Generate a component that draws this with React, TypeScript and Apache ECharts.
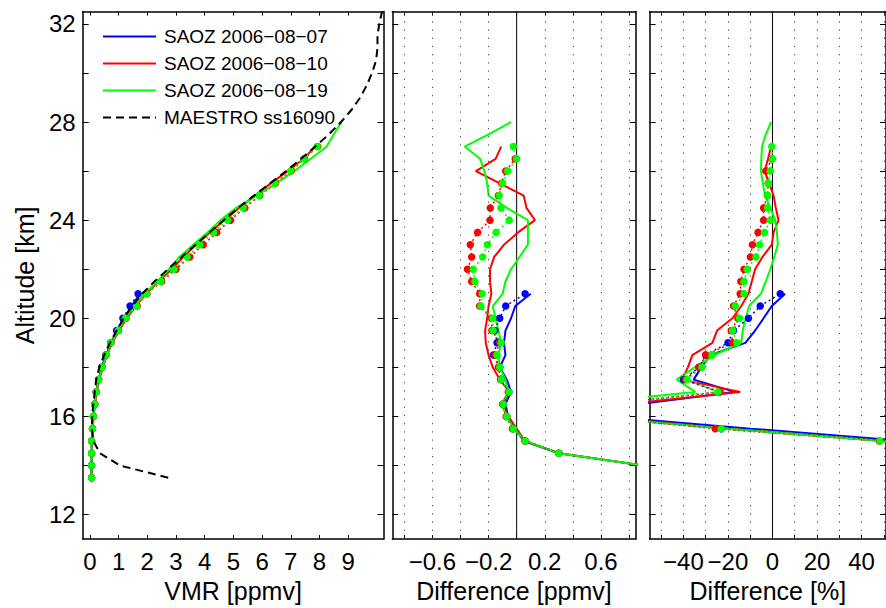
import React, { useEffect, useRef } from "react";
import * as echarts from "echarts";

// ---------- Panel 1: VMR [ppmv] ----------
const ALT_P1_DOTS = [13.5, 14, 14.5, 15, 15.5, 16, 16.5, 17, 17.5, 18, 18.5, 19, 19.5, 20, 20.5, 21, 21.5, 22, 22.5, 23, 23.5, 24, 24.5, 25, 25.5, 26, 26.5, 27];
const P1_GREEN_DOTS = [0.06, 0.06, 0.06, 0.06, 0.09, 0.12, 0.17, 0.22, 0.31, 0.43, 0.57, 0.73, 0.99, 1.24, 1.63, 1.97, 2.47, 2.93, 3.39, 3.83, 4.31, 4.8, 5.34, 5.9, 6.45, 7.0, 7.45, 7.92];
const P1_RED_DOTS = [0.06, 0.06, 0.06, 0.06, 0.09, 0.12, 0.17, 0.22, 0.31, 0.43, 0.57, 0.74, 1.0, 1.26, 1.65, 1.99, 2.5, 3.0, 3.48, 3.95, 4.42, 4.9, 5.4, 5.92, 6.47, 7.02, 7.47, 7.94];
const P1_RED_LINE = [0.06, 0.06, 0.07, 0.08, 0.1, 0.13, 0.18, 0.24, 0.33, 0.45, 0.6, 0.78, 1.02, 1.28, 1.6, 1.95, 2.4, 2.85, 3.25, 3.7, 4.18, 4.68, 5.2, 5.75, 6.3, 6.9, 7.45, 7.85];
const ALT_P1_BLUE = [13.5, 14, 14.5, 15, 15.5, 16, 16.5, 17, 17.5, 18, 18.5, 19, 19.5, 20, 20.5, 21];
const P1_BLUE_DOTS = [0.06, 0.06, 0.06, 0.06, 0.09, 0.12, 0.17, 0.22, 0.3, 0.41, 0.55, 0.72, 0.93, 1.15, 1.4, 1.68];
const P1_BLUE_LINE = [0.06, 0.06, 0.06, 0.07, 0.09, 0.12, 0.17, 0.22, 0.3, 0.42, 0.56, 0.74, 0.96, 1.2, 1.45, 1.75];
const ALT_P1_GREEN_LINE = [13.5, 14, 14.5, 15, 15.5, 16, 16.5, 17, 17.5, 18, 18.5, 19, 19.5, 20, 20.5, 21, 21.5, 22, 22.5, 23, 23.5, 24, 24.5, 25, 25.5, 26, 26.5, 27, 27.5, 28];
const P1_GREEN_LINE = [0.06, 0.06, 0.06, 0.07, 0.09, 0.12, 0.17, 0.22, 0.31, 0.43, 0.58, 0.76, 1.0, 1.22, 1.55, 1.9, 2.35, 2.75, 3.12, 3.6, 4.1, 4.55, 5.1, 5.8, 6.5, 7.12, 7.7, 8.25, 8.5, 8.77];
const ALT_MAESTRO = [13.5, 14, 14.5, 15, 15.5, 16, 16.5, 17, 17.5, 18, 18.5, 19, 19.5, 20, 20.5, 21, 21.5, 22, 22.5, 23, 23.5, 24, 24.5, 25, 25.5, 26, 26.5, 27, 27.5, 28, 28.5, 29, 29.5, 30, 30.5, 31, 31.5, 32, 32.5];
const MAESTRO = [2.73, 1.05, 0.35, 0.12, 0.07, 0.08, 0.12, 0.17, 0.22, 0.33, 0.5, 0.7, 0.93, 1.18, 1.48, 1.82, 2.25, 2.72, 3.2, 3.68, 4.17, 4.66, 5.17, 5.72, 6.28, 6.84, 7.36, 7.85, 8.33, 8.75, 9.12, 9.42, 9.65, 9.83, 9.97, 10.02, 10.02, 10.08, 10.18];

// ---------- Panel 2: Difference [ppmv] ----------
const ALT_P2_GREEN_LINE = [14, 14.5, 15, 15.5, 16, 16.5, 17, 17.5, 18, 18.5, 19, 19.5, 20, 20.5, 21, 21.5, 22, 22.5, 23, 23.5, 24, 24.5, 25, 25.5, 26, 26.5, 27, 27.5, 28];
const P2_GREEN_LINE = [0.9, 0.3, 0.06, -0.02, -0.07, -0.11, -0.06, -0.08, -0.12, -0.13, -0.11, -0.13, -0.15, -0.17, -0.1, -0.08, -0.04, 0.02, 0.08, 0.08, 0.08, -0.07, -0.2, -0.21, -0.23, -0.26, -0.37, -0.2, -0.04];
const ALT_P2_RED_LINE = [14, 14.5, 15, 15.5, 16, 16.5, 17, 17.5, 18, 18.5, 19, 19.5, 20, 20.5, 21, 21.5, 22, 22.5, 23, 23.5, 24, 24.5, 25, 25.5, 26, 26.5, 27];
const P2_RED_LINE = [0.9, 0.3, 0.06, 0.0, -0.06, -0.095, -0.05, -0.12, -0.17, -0.2, -0.22, -0.225, -0.21, -0.2, -0.18, -0.19, -0.19, -0.16, -0.09, 0.01, 0.13, 0.07, 0.05, -0.12, -0.29, -0.15, -0.11];
const ALT_P2_BLUE_LINE = [14, 14.5, 15, 15.5, 16, 16.5, 17, 17.5, 18, 18.5, 19, 19.5, 20, 20.5, 21];
const P2_BLUE_LINE = [0.9, 0.3, 0.05, -0.01, -0.06, -0.08, -0.04, -0.07, -0.12, -0.08, -0.09, -0.08, -0.04, -0.01, 0.1];
const ALT_GREEN_DOTS = [14.5, 15, 15.5, 16, 16.5, 17, 17.5, 18, 18.5, 19, 19.5, 20, 20.5, 21, 21.5, 22, 22.5, 23, 23.5, 24, 24.5, 25, 25.5, 26, 26.5, 27];
const P2_GREEN_DOTS = [0.3, 0.06, -0.024, -0.07, -0.095, -0.055, -0.11, -0.12, -0.14, -0.11, -0.167, -0.171, -0.254, -0.245, -0.297, -0.309, -0.242, -0.209, -0.147, -0.053, -0.112, -0.124, -0.1, -0.064, 0.0, -0.024];
const ALT_RED_DOTS = [14.5, 15, 15.5, 16, 16.5, 17, 17.5, 18, 18.5, 19, 19.5, 20, 20.5, 21, 21.5, 22, 22.5, 23, 23.5, 24, 24.5, 25, 25.5, 26, 26.5];
const P2_RED_DOTS = [0.3, 0.06, -0.03, -0.075, -0.1, -0.06, -0.115, -0.13, -0.155, -0.12, -0.176, -0.18, -0.263, -0.263, -0.32, -0.35, -0.32, -0.33, -0.278, -0.19, -0.188, -0.13, -0.107, -0.078, -0.01];
const ALT_BLUE_DOTS = [14.5, 15, 15.5, 16, 16.5, 17, 17.5, 18, 18.5, 19, 19.5, 20, 20.5, 21];
const P2_BLUE_DOTS = [0.3, 0.06, -0.024, -0.07, -0.095, -0.055, -0.11, -0.12, -0.165, -0.14, -0.155, -0.121, -0.078, 0.06];

// ---------- Panel 3: Difference [%] ----------
const P3_GREEN_LINE = [120, 86, 50, -20, -85, -87, -34.7, -43, -35, -26, -14, -13.4, -12, -10.5, -5.2, -3, -1.0, 0.8, 2.4, 2.0, 1.2, -1.0, -3.3, -4.3, -5.2, -5.0, -4.7, -3.0, -0.6];
const P3_RED_LINE = [120, 86, 50, -20, -80, -66, -14.5, -40.6, -38, -36, -27, -24.9, -18, -14, -10.8, -9.3, -7.8, -4.5, -0.3, 0.5, 2.7, 1.5, 0.5, -1.5, -3.5, -2, -0.6];
const P3_BLUE_LINE = [120, 86, 60, -10, -75, -60, -17, -35.4, -32, -28, -12.2, -7.8, -4.0, -0.3, 5.7];
const P3_GREEN_DOTS = [86, 48.3, -23, -78, -73, -24.5, -38.4, -31.7, -27.2, -16.0, -17.9, -14.8, -16.7, -12.8, -12.8, -11.3, -7.4, -5.8, -3.6, -1.0, -2.2, -2.2, -1.8, -1.0, 0.0, -0.3];
const P3_RED_DOTS = [86, 48, -25.7, -80, -75, -23.5, -39, -33, -30, -18, -18.5, -15.5, -17.5, -14.5, -14.2, -12.8, -9.9, -9.0, -6.5, -4.0, -4.0, -2.3, -1.9, -3.0, -0.3];
const P3_BLUE_DOTS = [86, 52, -23, -78, -73, -24, -40, -33, -30, -20, -17.5, -10.8, -5.5, 3.5];

// ---------- Axes ----------
const Y_TICKS = [12, 14, 16, 18, 20, 22, 24, 26, 28, 30, 32];
const Y_LABELS = [12, 16, 20, 24, 28, 32];
const X1_TICKS = [0, 1, 2, 3, 4, 5, 6, 7, 8, 9];
const X2_TICKS = [-0.8, -0.6, -0.4, -0.2, 0, 0.2, 0.4, 0.6, 0.8];
const X2_LABELS = [-0.6, -0.2, 0.2, 0.6];
const X3_TICKS = [-50, -40, -30, -20, -10, 0, 10, 20, 30, 40, 50];
const X3_LABELS = [-40, -20, 0, 20, 40];
const X2_GRID = [-0.8, -0.6, -0.4, -0.2, 0.2, 0.4, 0.6, 0.8];
const X3_GRID = [-50, -40, -30, -20, -10, 10, 20, 30, 40, 50];

const NAMES = ["SAOZ 2006−08−07", "SAOZ 2006−08−10", "SAOZ 2006−08−19", "MAESTRO ss16090"];
const BLUE = "#0000ff";
const RED = "#ff0000";
const GREEN = "#00ff00";
const FONT = "'Liberation Sans', Arial, Helvetica, sans-serif";

const pairs = (xs: number[], alts: number[]) => alts.map((a, i) => [xs[i], a]);
const fmt = (v: number) => String(v).replace("-", "−");

const Y_MIN = 11;
const Y_MAX = 32.5;

function xAxis(gridIndex: number, min: number, max: number, ticks: number[], labels: number[] | null, name: string, top: boolean) {
  return {
    type: "value",
    gridIndex,
    position: top ? "top" : "bottom",
    min,
    max,
    name: top ? "" : name,
    nameLocation: "middle",
    nameGap: 36,
    nameTextStyle: { fontSize: 25, color: "#000", fontFamily: FONT },
    axisLine: { show: true, onZero: false, lineStyle: { color: "#000", width: 1.5 } },
    axisTick: { show: true, inside: true, length: 4, customValues: ticks, lineStyle: { color: "#000", width: 1 } },
    axisLabel: labels
      ? { show: true, customValues: labels, formatter: fmt, fontSize: 24, color: "#000", fontFamily: FONT, margin: 10 }
      : { show: false },
    splitLine: { show: false },
  };
}

function yAxis(gridIndex: number, right: boolean, withLabels: boolean) {
  return {
    type: "value",
    gridIndex,
    position: right ? "right" : "left",
    min: Y_MIN,
    max: Y_MAX,
    name: withLabels ? "Altitude [km]" : "",
    nameLocation: "middle",
    nameGap: 45,
    nameTextStyle: { fontSize: 25, color: "#000", fontFamily: FONT },
    axisLine: { show: true, onZero: false, lineStyle: { color: "#000", width: 1.5 } },
    axisTick: { show: true, inside: true, length: 6, customValues: Y_TICKS, lineStyle: { color: "#000", width: 1 } },
    axisLabel: withLabels
      ? { show: true, customValues: Y_LABELS, fontSize: 24, color: "#000", fontFamily: FONT, margin: 7 }
      : { show: false },
    splitLine: { show: false },
  };
}

function lineSeries(name: string, xi: number, data: number[][], color: string, z = 3) {
  return {
    name,
    type: "line",
    xAxisIndex: xi,
    yAxisIndex: xi,
    data,
    symbol: "none",
    showSymbol: false,
    clip: true,
    z,
    lineStyle: { color, width: 2 },
    itemStyle: { color },
  };
}

function dotSeries(name: string, xi: number, data: number[][], color: string, z = 4) {
  return {
    name,
    type: "line",
    xAxisIndex: xi,
    yAxisIndex: xi,
    data,
    symbol: "circle",
    symbolSize: 7.5,
    showSymbol: true,
    clip: true,
    z,
    lineStyle: { color, width: 1.5, type: [2, 3] },
    itemStyle: { color, borderWidth: 0 },
  };
}

function zeroSeries(xi: number, grid: number[]) {
  return {
    name: "zero" + xi,
    type: "line",
    xAxisIndex: xi,
    yAxisIndex: xi,
    data: [[0, Y_MIN], [0, Y_MAX]],
    symbol: "none",
    clip: true,
    z: 1,
    silent: true,
    lineStyle: { color: "#000", width: 1 },
    markLine: {
      silent: true,
      symbol: ["none", "none"],
      label: { show: false },
      animation: false,
      lineStyle: { color: "#444", width: 1, type: [1.2, 7] },
      data: grid.map((v) => ({ xAxis: v })),
    },
  };
}

export default function App() {
  const ref = useRef<HTMLDivElement>(null);
  useEffect(() => {
    const chart = echarts.init(ref.current!, null, { renderer: "svg" });
    const option: any = {
      animation: false,
      backgroundColor: "#fff",
      textStyle: { fontFamily: FONT },
      grid: [
        { left: 82.7, top: 11.6, width: 300.8, height: 532.1, containLabel: false },
        { left: 392.3, top: 11.6, width: 243.4, height: 532.1, containLabel: false },
        { left: 649.6, top: 11.6, width: 236.4, height: 532.1, containLabel: false },
      ],
      xAxis: [
        xAxis(0, -0.25, 10.23, X1_TICKS, X1_TICKS, "VMR [ppmv]", false),
        xAxis(0, -0.25, 10.23, X1_TICKS, null, "", true),
        xAxis(1, -0.885, 0.847, X2_TICKS, X2_LABELS, "Difference [ppmv]", false),
        xAxis(1, -0.885, 0.847, X2_TICKS, null, "", true),
        xAxis(2, -55.2, 51, X3_TICKS, X3_LABELS, "Difference [%]", false),
        xAxis(2, -55.2, 51, X3_TICKS, null, "", true),
      ],
      yAxis: [
        yAxis(0, false, true),
        yAxis(0, true, false),
        yAxis(1, false, false),
        yAxis(1, true, false),
        yAxis(2, false, false),
        yAxis(2, true, false),
      ],
      legend: {
        data: NAMES,
        orient: "vertical",
        left: 97,
        top: 22,
        itemWidth: 53,
        itemHeight: 14,
        itemGap: 8,
        selectedMode: false,
        itemStyle: { opacity: 0, borderWidth: 0 },
        textStyle: { fontSize: 19, color: "#000", fontFamily: FONT, padding: [0, 0, 0, 3] },
      },
      series: [
        // Panel 1
        lineSeries(NAMES[0], 0, pairs(P1_BLUE_LINE, ALT_P1_BLUE), BLUE),
        dotSeries("p1 blue dots", 0, pairs(P1_BLUE_DOTS, ALT_P1_BLUE), BLUE),
        lineSeries(NAMES[1], 0, pairs(P1_RED_LINE, ALT_P1_DOTS), RED),
        dotSeries("p1 red dots", 0, pairs(P1_RED_DOTS, ALT_P1_DOTS), RED),
        lineSeries(NAMES[2], 0, pairs(P1_GREEN_LINE, ALT_P1_GREEN_LINE), GREEN),
        dotSeries("p1 green dots", 0, pairs(P1_GREEN_DOTS, ALT_P1_DOTS), GREEN),
        {
          name: NAMES[3],
          type: "line",
          xAxisIndex: 0,
          yAxisIndex: 0,
          data: pairs(MAESTRO, ALT_MAESTRO),
          symbol: "none",
          showSymbol: false,
          clip: true,
          z: 5,
          lineStyle: { color: "#000", width: 2, type: [8, 5] },
          itemStyle: { color: "#000" },
        },
        // Panel 2
        zeroSeries(2, X2_GRID),
        lineSeries("p2 blue", 2, pairs(P2_BLUE_LINE, ALT_P2_BLUE_LINE), BLUE),
        dotSeries("p2 blue dots", 2, pairs(P2_BLUE_DOTS, ALT_BLUE_DOTS), BLUE),
        lineSeries("p2 red", 2, pairs(P2_RED_LINE, ALT_P2_RED_LINE), RED),
        dotSeries("p2 red dots", 2, pairs(P2_RED_DOTS, ALT_RED_DOTS), RED),
        lineSeries("p2 green", 2, pairs(P2_GREEN_LINE, ALT_P2_GREEN_LINE), GREEN),
        dotSeries("p2 green dots", 2, pairs(P2_GREEN_DOTS, ALT_GREEN_DOTS), GREEN),
        // Panel 3
        zeroSeries(4, X3_GRID),
        lineSeries("p3 blue", 4, pairs(P3_BLUE_LINE, ALT_P2_BLUE_LINE), BLUE),
        dotSeries("p3 blue dots", 4, pairs(P3_BLUE_DOTS, ALT_BLUE_DOTS), BLUE),
        lineSeries("p3 red", 4, pairs(P3_RED_LINE, ALT_P2_RED_LINE), RED),
        dotSeries("p3 red dots", 4, pairs(P3_RED_DOTS, ALT_RED_DOTS), RED),
        lineSeries("p3 green", 4, pairs(P3_GREEN_LINE, ALT_P2_GREEN_LINE), GREEN),
        dotSeries("p3 green dots", 4, pairs(P3_GREEN_DOTS, ALT_GREEN_DOTS), GREEN),
      ],
    };
    chart.setOption(option);
    return () => chart.dispose();
  }, []);
  return (
    <div
      ref={ref}
      style={{ position: "fixed", left: 0, top: 0, width: 886, height: 608, background: "#fff" }}
    />
  );
}
